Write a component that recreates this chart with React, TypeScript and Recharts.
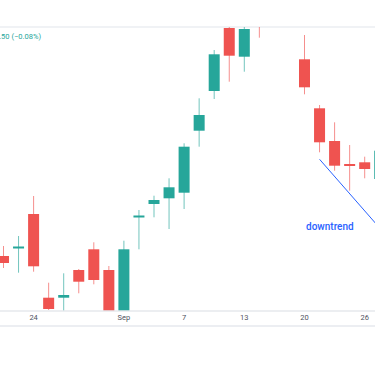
import { ComposedChart, Bar, XAxis, YAxis, ReferenceLine } from "recharts";

const dates = [
  "08-22", "08-23", "08-24", "08-27", "08-28", "08-29", "08-30", "08-31",
  "09-03", "09-04", "09-05", "09-06", "09-07", "09-10", "09-11", "09-12",
  "09-13", "09-14", "09-17", "09-18", "09-20", "09-21", "09-24", "09-25",
  "09-26", "09-27",
];
const opens = [
  105.4, 106.2, 109.6, 101.23, 101.23, 104.0, 106.07, 104.0,
  99.5, 109.3, 110.6, 111.17, 111.73, 117.93, 121.9, 128.2,
  125.33, 130.5, 131.5, 129.5, 125.07, 120.17, 116.9, 114.55,
  114.77, 113.1,
];
const closes = [
  104.7, 106.3, 104.37, 100.1, 101.5, 102.83, 103.0, 99.5,
  106.07, 109.4, 111.0, 112.27, 116.33, 119.5, 125.57, 125.43,
  128.1, 128.9, 130.0, 130.8, 122.27, 116.77, 114.43, 114.45,
  114.1, 115.93,
];
const highs = [
  106.4, 107.4, 111.4, 102.73, 103.67, 104.1, 106.77, 104.4,
  106.93, 110.0, 111.43, 113.17, 116.67, 121.17, 126.0, 129.0,
  128.6, 131.2, 132.5, 131.5, 127.5, 120.5, 118.77, 116.5,
  115.33, 116.2,
];
const lows = [
  104.2, 103.73, 103.83, 100.0, 99.8, 101.67, 102.57, 99.2,
  99.0, 106.07, 109.27, 108.1, 110.1, 116.33, 121.1, 122.83,
  123.83, 127.23, 129.0, 128.8, 121.57, 115.77, 113.93, 111.93,
  113.17, 112.8,
];
const tickDates = ["08-24", "09-03", "09-07", "09-13", "09-20", "09-26"];
const tickLabels = ["24", "Sep", "7", "13", "20", "26"];
const trendStart = { date: "09-21", price: 115.07 };
const trendEnd = { date: "09-27", price: 108.19 };

const UP = "#26a69a";
const DOWN = "#ef5350";

const data = dates.map((date, i) => ({
  date,
  open: opens[i],
  close: closes[i],
  high: highs[i],
  low: lows[i],
  range: [lows[i], highs[i]],
}));

function Candle(props: any) {
  const { x, y, width, height, payload } = props;
  const { open, close, high, low } = payload;
  const top = Math.min(y, y + height);
  const bottom = Math.max(y, y + height);
  const ratio = (bottom - top) / (high - low || 1);
  const pix = (v: number) => bottom - (v - low) * ratio;
  const color = close >= open ? UP : DOWN;
  const cx = x + width / 2;
  let bTop = pix(Math.max(open, close));
  let bBot = pix(Math.min(open, close));
  if (bBot - bTop < 2) {
    const mid = (bTop + bBot) / 2;
    bTop = mid - 1;
    bBot = mid + 1;
  }
  return (
    <g>
      <line x1={cx} x2={cx} y1={top} y2={bottom} stroke={color} strokeOpacity={0.65} strokeWidth={1} />
      <rect x={x} y={bTop} width={width} height={bBot - bTop} fill={color} />
    </g>
  );
}

export default function App() {
  return (
    <div
      style={{
        position: "fixed",
        left: 0,
        top: 0,
        width: 375,
        height: 366,
        overflow: "hidden",
        background: "#fff",
        fontFamily: "Roboto, sans-serif",
      }}
    >
      <div style={{ position: "absolute", left: 0, top: 26, width: 375, height: 2, background: "#f0f2f5" }} />
      <div style={{ position: "absolute", left: 0, top: 325, width: 375, height: 1.5, background: "#eceef2" }} />
      <div style={{ position: "absolute", left: -4.2, top: 0 }}>
        <ComposedChart
          width={400}
          height={366}
          data={data}
          margin={{ top: 27, right: 8.7, bottom: 25, left: 0 }}
        >
          <XAxis
            dataKey="date"
            height={30}
            ticks={tickDates}
            interval={0}
            tickFormatter={(d: string) => tickLabels[tickDates.indexOf(d)] ?? ""}
            tickLine={false}
            tickSize={0}
            tickMargin={4}
            axisLine={{ stroke: "#e6e8ec", strokeWidth: 1.5 }}
            tick={{ fontSize: 7.5, fill: "#50535e", fontFamily: "Roboto, sans-serif" }}
          />
          <YAxis hide domain={[99.9, 128.3]} allowDataOverflow />
          <Bar dataKey="range" barSize={11} shape={<Candle />} isAnimationActive={false} />
          <ReferenceLine
            segment={[
              { x: trendStart.date, y: trendStart.price },
              { x: trendEnd.date, y: trendEnd.price },
            ]}
            stroke="#2962ff"
            strokeWidth={1}
            ifOverflow="visible"
          />
        </ComposedChart>
      </div>
      <div
        style={{
          position: "absolute",
          left: -60,
          width: 101,
          top: 33,
          textAlign: "right",
          fontSize: 7.5,
          lineHeight: "8px",
          color: UP,
        }}
      >
        −0.50 (−0.08%)
      </div>
      <div
        style={{
          position: "absolute",
          left: 306,
          top: 221,
          fontSize: 10,
          lineHeight: "12px",
          fontWeight: 500,
          color: "#2962ff",
        }}
      >
        downtrend
      </div>
    </div>
  );
}
